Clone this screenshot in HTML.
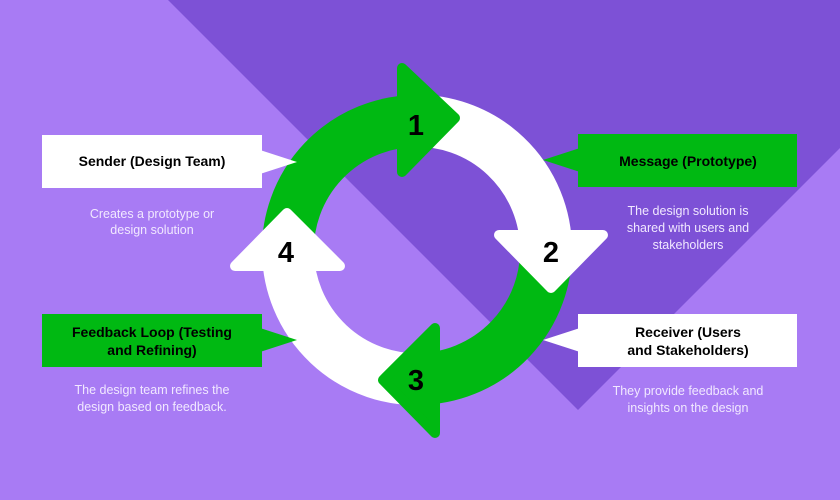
<!DOCTYPE html>
<html><head><meta charset="utf-8"><style>
body{margin:0;width:840px;height:500px;overflow:hidden;background:#a77bf3;font-family:"Liberation Sans",sans-serif}
</style></head><body>
<svg width="840" height="500" viewBox="0 0 840 500" xmlns="http://www.w3.org/2000/svg" style="position:absolute;left:0;top:0">
<rect width="840" height="500" fill="#a87bf4"/>
<polygon points="168,0 840,0 840,148 578,410" fill="#7d51d6"/>
<g fill="none" stroke-width="52">
<path d="M288 256 A129 129 0 0 1 417 121" stroke="#00b912"/>
<path d="M410 121 A129 129 0 0 1 546 250" stroke="#ffffff"/>
<path d="M546 245 A129 129 0 0 1 417 379" stroke="#00b912"/>
<path d="M425 379 A129 129 0 0 1 288 250" stroke="#ffffff"/>
</g>
<g stroke-linejoin="round" stroke-width="10">
<polygon points="402,68 402,172 455,118" fill="#00b912" stroke="#00b912"/>
<polygon points="499,235 603,235 551,288" fill="#fff" stroke="#fff"/>
<polygon points="435,328 435,433 383,380" fill="#00b912" stroke="#00b912"/>
<polygon points="235,266 340,266 287,213" fill="#fff" stroke="#fff"/>
</g>
<g font-family="Liberation Sans, sans-serif" font-weight="bold" font-size="29" text-anchor="middle" fill="#000">
<text x="416" y="135">1</text>
<text x="551" y="262">2</text>
<text x="416" y="390">3</text>
<text x="286" y="262">4</text>
</g>
<!-- boxes -->
<rect x="42" y="135" width="220" height="53" fill="#fff"/>
<polygon points="260,150 297,162 260,174" fill="#fff"/>
<rect x="578" y="134" width="219" height="53" fill="#00b912"/>
<polygon points="580,148 543,160 580,172" fill="#00b912"/>
<rect x="42" y="314" width="220" height="53" fill="#00b912"/>
<polygon points="260,328 297,340 260,352" fill="#00b912"/>
<rect x="578" y="314" width="219" height="53" fill="#fff"/>
<polygon points="580,328 543,340 580,352" fill="#fff"/>
<g font-family="Liberation Sans, sans-serif" font-weight="bold" font-size="14" text-anchor="middle" fill="#000">
<text x="152" y="166">Sender (Design Team)</text>
<text x="688" y="166">Message (Prototype)</text>
<text x="152" y="337">Feedback Loop (Testing</text>
<text x="152" y="355">and Refining)</text>
<text x="688" y="337">Receiver (Users</text>
<text x="688" y="355">and Stakeholders)</text>
</g>
<g font-family="Liberation Sans, sans-serif" font-size="12.5" text-anchor="middle" fill="#f1e8ff">
<text x="152" y="218">Creates a prototype or</text>
<text x="152" y="234">design solution</text>
<text x="688" y="215">The design solution is</text>
<text x="688" y="232">shared with users and</text>
<text x="688" y="249">stakeholders</text>
<text x="152" y="394">The design team refines the</text>
<text x="152" y="411">design based on feedback.</text>
<text x="688" y="395">They provide feedback and</text>
<text x="688" y="412">insights on the design</text>
</g>
</svg>
</body></html>
